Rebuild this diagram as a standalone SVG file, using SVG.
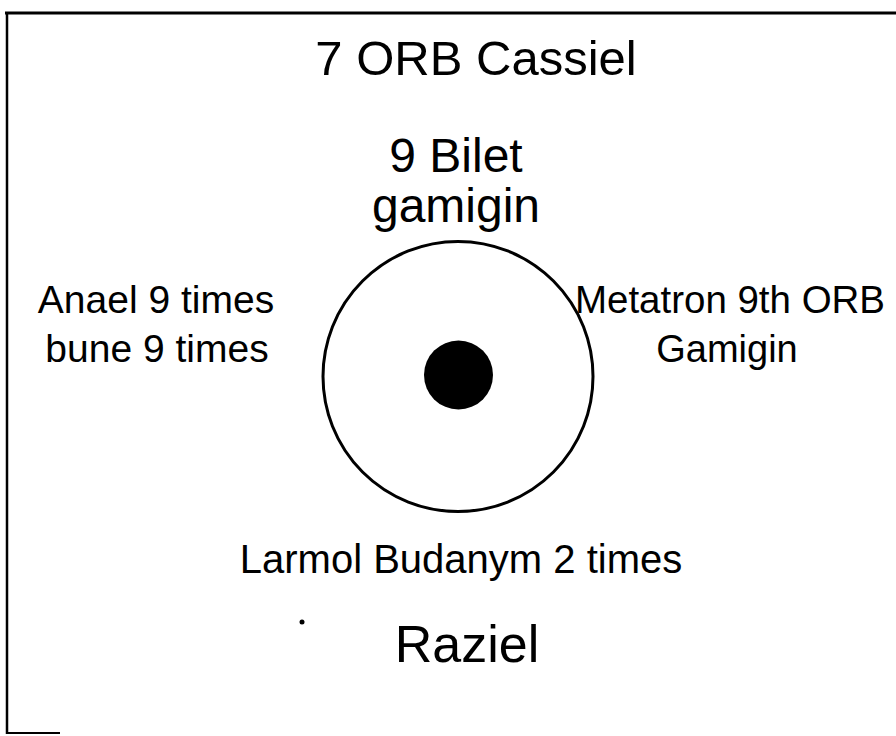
<svg xmlns="http://www.w3.org/2000/svg" width="896" height="736" viewBox="0 0 896 736">
<style>
text{font-family:"Liberation Sans",Arial,sans-serif;fill:#000;text-anchor:middle}
.frame{fill:none;stroke:#000}
</style>
<rect width="896" height="736" fill="#fff"/>
<g id="frame">
<line class="frame" x1="5" y1="13" x2="896" y2="13" stroke-width="3"/>
<line class="frame" x1="7" y1="12" x2="7" y2="734" stroke-width="2.5"/>
<line class="frame" x1="6" y1="733" x2="60" y2="733" stroke-width="2"/>
</g>
<g id="title"><text x="476" y="75" font-size="49">7 ORB Cassiel</text></g>
<g id="top"><text x="456" y="172" font-size="48">9 Bilet</text><text x="456" y="222" font-size="48">gamigin</text></g>
<g id="left"><text x="156" y="313" font-size="39">Anael 9 times</text><text x="157" y="362" font-size="39">bune 9 times</text></g>
<g id="right"><text x="730" y="313" font-size="38" textLength="310" lengthAdjust="spacingAndGlyphs">Metatron 9th ORB</text><text x="727" y="362" font-size="38">Gamigin</text></g>
<g id="orb"><circle cx="458" cy="376.5" r="135" fill="none" stroke="#000" stroke-width="3"/><circle cx="458.5" cy="375" r="34.5" fill="#000"/></g>
<g id="bottom"><text x="461" y="573" font-size="40">Larmol Budanym 2 times</text><circle cx="302" cy="622" r="2.5" fill="#000"/><text x="467" y="662" font-size="52">Raziel</text></g>
</svg>
